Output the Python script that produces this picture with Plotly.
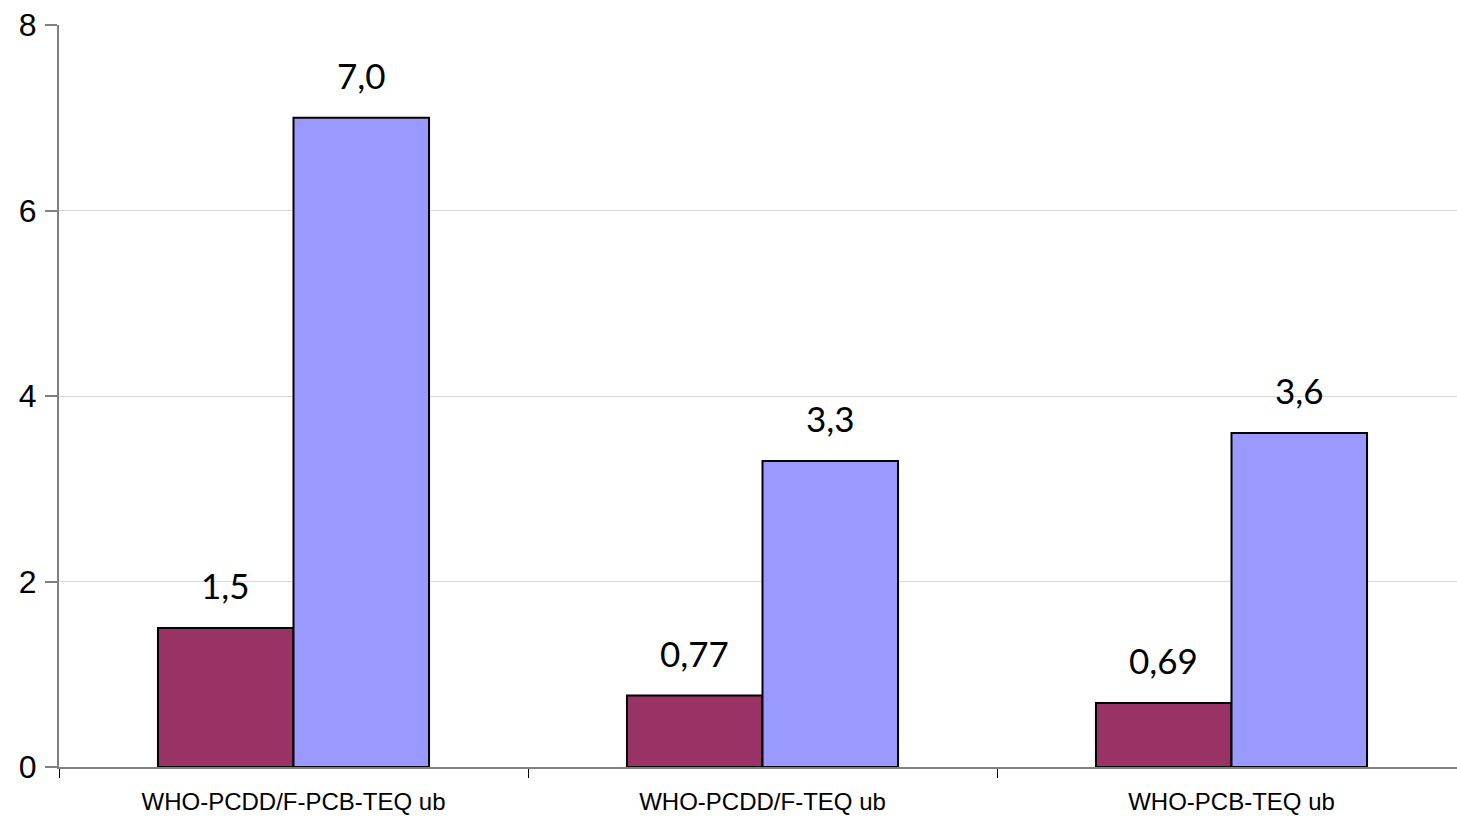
import plotly.graph_objects as go

# Data
categories = ["WHO-PCDD/F-PCB-TEQ ub", "WHO-PCDD/F-TEQ ub", "WHO-PCB-TEQ ub"]
series_a = [1.5, 0.77, 0.69]
series_b = [7.0, 3.3, 3.6]
labels_a = ["1,5", "0,77", "0,69"]
labels_b = ["7,0", "3,3", "3,6"]
y_ticks = [0, 2, 4, 6, 8]

W, H = 1457, 818
M_L, M_R, M_T, M_B = 59, 0, 25, 51
CAT_PX = 469.0  # pixel width of one category slot
BARGAP = 0.422

plot_w = W - M_L - M_R
x_end = -0.5 + plot_w / CAT_PX
bar_px = (1 - BARGAP) * CAT_PX / 2
shift = bar_px / 2

fig = go.Figure()
fig.add_trace(go.Bar(
    x=categories, y=series_a, name="A",
    marker=dict(color="#993366", line=dict(color="#000000", width=2)),
))
fig.add_trace(go.Bar(
    x=categories, y=series_b, name="B",
    marker=dict(color="#9999FF", line=dict(color="#000000", width=2)),
))

label_font = dict(family="Lato, 'Open Sans', sans-serif", size=35, color="#000000")
for cat, v, t in zip(categories, series_a, labels_a):
    fig.add_annotation(x=cat, y=v, text=t, showarrow=False, xref="x", yref="y",
                       xshift=-shift, yanchor="bottom", yshift=20, font=label_font)
for cat, v, t in zip(categories, series_b, labels_b):
    fig.add_annotation(x=cat, y=v, text=t, showarrow=False, xref="x", yref="y",
                       xshift=shift, yanchor="bottom", yshift=20, font=label_font)

fig.update_layout(
    width=W, height=H,
    margin=dict(l=M_L, r=M_R, t=M_T, b=M_B, pad=0),
    paper_bgcolor="#ffffff", plot_bgcolor="#ffffff",
    barmode="group", bargap=BARGAP, bargroupgap=0,
    showlegend=False,
    font=dict(family="Liberation Sans, Arial, sans-serif", color="#000000"),
)
fig.update_xaxes(
    range=[-0.5, x_end], showline=True, linecolor="#808080", linewidth=2,
    ticks="outside", tickson="boundaries", ticklen=9, tickcolor="#000000", tickwidth=1,
    tickfont=dict(size=24, family="Liberation Sans, Arial, sans-serif"),
    ticklabelstandoff=12,
    showgrid=False, zeroline=False,
)
fig.update_yaxes(
    range=[0, 8], tickvals=y_ticks, showline=True, linecolor="#808080", linewidth=2,
    ticks="outside", ticklen=12, tickcolor="#808080", tickwidth=2,
    tickfont=dict(size=32, family="Liberation Sans, Arial, sans-serif"),
    ticklabelstandoff=2,
    showgrid=True, gridcolor="#d9d9d9", gridwidth=1, zeroline=False,
)

fig.write_html("out.html")
